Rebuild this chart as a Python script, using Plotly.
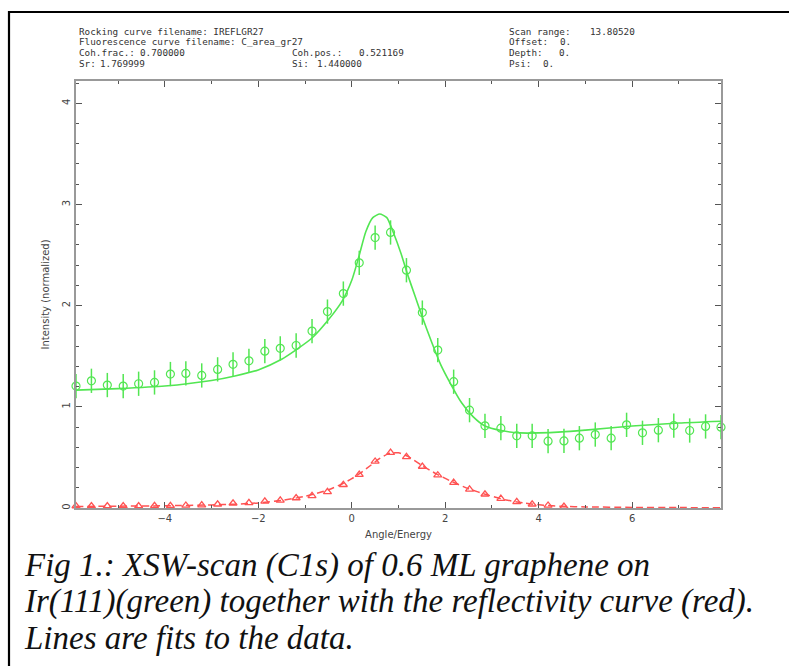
import plotly.graph_objects as go

# ---- data ----
x_pts = [-5.90, -5.57, -5.23, -4.89, -4.56, -4.22, -3.88, -3.55, -3.21, -2.87,
         -2.54, -2.20, -1.86, -1.53, -1.19, -0.85, -0.52, -0.18, 0.16, 0.50,
         0.83, 1.17, 1.51, 1.84, 2.18, 2.52, 2.85, 3.19, 3.53, 3.86,
         4.20, 4.54, 4.87, 5.21, 5.55, 5.88, 6.22, 6.56, 6.89, 7.23,
         7.57, 7.90]
fluor_y = [1.205, 1.257, 1.215, 1.205, 1.228, 1.241, 1.324, 1.330, 1.310, 1.370,
           1.420, 1.455, 1.550, 1.578, 1.606, 1.749, 1.941, 2.119, 2.423, 2.673,
           2.723, 2.350, 1.931, 1.561, 1.248, 0.967, 0.812, 0.789, 0.713, 0.713,
           0.660, 0.663, 0.690, 0.726, 0.690, 0.822, 0.743, 0.769, 0.815, 0.766,
           0.806, 0.799]
fluor_err = [0.12, 0.12, 0.12, 0.12, 0.12, 0.12, 0.12, 0.12, 0.12, 0.12,
             0.12, 0.12, 0.12, 0.12, 0.12, 0.12, 0.12, 0.12, 0.12, 0.12,
             0.12, 0.12, 0.12, 0.12, 0.12, 0.12, 0.12, 0.12, 0.12, 0.12,
             0.12, 0.12, 0.12, 0.12, 0.12, 0.12, 0.12, 0.12, 0.12, 0.12,
             0.12, 0.12]
refl_y = [0.020, 0.020, 0.020, 0.020, 0.020, 0.022, 0.022, 0.025, 0.028, 0.037,
          0.047, 0.050, 0.066, 0.076, 0.099, 0.120, 0.160, 0.230, 0.330, 0.460,
          0.548, 0.505, 0.410, 0.324, 0.251, 0.185, 0.136, 0.093, 0.060, 0.037,
          0.025, 0.015, None, None, None, None, None, None, None, None,
          None, None]

fit_fl_x = [-5.9, -5.0, -4.0, -3.0, -2.5, -2.0, -1.5, -1.2, -0.85, -0.5, -0.2, 0.0,
            0.15, 0.3, 0.45, 0.6, 0.75, 0.9, 1.05, 1.2, 1.35, 1.5, 1.7, 1.9, 2.1,
            2.35, 2.6, 2.85, 3.2, 3.6, 4.0, 4.5, 5.0, 6.0, 7.0, 7.9]
fit_fl_y = [1.165, 1.18, 1.205, 1.26, 1.305, 1.365, 1.47, 1.56, 1.68, 1.86, 2.05, 2.25,
            2.48, 2.73, 2.87, 2.905, 2.87, 2.71, 2.52, 2.30, 2.10, 1.90, 1.65, 1.42, 1.24,
            1.04, 0.90, 0.81, 0.765, 0.742, 0.742, 0.752, 0.77, 0.81, 0.84, 0.858]

fit_rf_x = [-5.9, -5.0, -4.0, -3.0, -2.5, -2.0, -1.5, -1.0, -0.5, -0.2, 0.0, 0.2,
            0.4, 0.6, 0.8, 1.0, 1.2, 1.5, 1.8, 2.1, 2.5, 2.9, 3.3, 3.7, 4.1, 4.5,
            5.0, 6.0, 7.0, 7.9]
fit_rf_y = [0.015, 0.018, 0.022, 0.030, 0.038, 0.050, 0.075, 0.115, 0.18, 0.24, 0.29, 0.35,
            0.42, 0.49, 0.54, 0.545, 0.51, 0.42, 0.34, 0.27, 0.19, 0.13, 0.08, 0.048, 0.028, 0.017,
            0.011, 0.006, 0.004, 0.003]

header_left = [
    ("Rocking curve filename: IREFLGR27", None, None, None),
    ("Fluorescence curve filename: C_area_gr27", None, None, None),
    ("Coh.frac.:", "0.700000", "Coh.pos.:", "0.521169"),
    ("Sr:", "1.769999", "Si:", "1.440000"),
]
header_right = [("Scan range:", "13.80520"), ("Offset:", "0."), ("Depth:", "0."), ("Psi:", "0.")]

caption = ["Fig 1.: XSW-scan (C1s) of 0.6 ML graphene on",
           "Ir(111)(green) together with the reflectivity curve (red).",
           "Lines are fits to the data."]

GREEN = "#52e652"
RED = "#ff5252"

# ---- layout geometry (pixels) ----
W, H = 789, 666
L, R, T, B = 76, 721, 81, 508
pw, ph = R - L, B - T


def px(xp):
    return (xp - L) / pw


def py(yp):
    return (B - yp) / ph


fig = go.Figure()

fig.add_trace(go.Scatter(x=fit_rf_x, y=fit_rf_y, mode="lines",
                         line=dict(color=RED, width=1.5, dash="7px,4px", shape="spline", smoothing=0.6),
                         hoverinfo="skip"))
fig.add_trace(go.Scatter(x=x_pts, y=refl_y, mode="markers", cliponaxis=False,
                         marker=dict(symbol="triangle-up-open", size=7, color=RED, line=dict(width=1.3))))
fig.add_trace(go.Scatter(x=fit_fl_x, y=fit_fl_y, mode="lines",
                         line=dict(color=GREEN, width=1.6, shape="spline", smoothing=0.6),
                         hoverinfo="skip"))
fig.add_trace(go.Scatter(x=x_pts, y=fluor_y, mode="markers", cliponaxis=False,
                         error_y=dict(type="data", array=fluor_err, color=GREEN, thickness=1.5, width=0),
                         marker=dict(symbol="circle-open", size=8, color=GREEN, line=dict(width=1.2))))

axis_common = dict(showgrid=False, zeroline=False, showline=True, linecolor="#999", linewidth=2,
                   mirror="ticks", ticks="inside", tickcolor="#555", ticklen=6, tickwidth=1,
                   tickfont=dict(family="DejaVu Sans", size=10, color="#444"))

fig.update_xaxes(range=[-5.9, 7.9], tickmode="array", tickvals=[-4, -2, 0, 2, 4, 6],
                 ticktext=["\u22124", "\u22122", "0", "2", "4", "6"],
                 minor=dict(tickmode="array", tickvals=[-5, -3, -1, 1, 3, 5, 7], ticks="inside",
                            ticklen=3, tickcolor="#555"),
                 title=dict(text="Angle/Energy", font=dict(family="DejaVu Sans", size=10, color="#444"),
                            standoff=8),
                 **axis_common)
fig.update_yaxes(range=[0, 4.22], tickmode="array", tickvals=[0, 1, 2, 3, 4], tickangle=-90,
                 minor=dict(dtick=0.2, ticks="inside", ticklen=3, tickcolor="#555"),
                 title=dict(text="Intensity (normalized)", font=dict(family="DejaVu Sans", size=10, color="#444"),
                            standoff=10),
                 **axis_common)

annos = []
hdr_font = dict(family="DejaVu Sans Mono", size=9.3, color="#333")
rows_y = [31, 41.7, 52.4, 63.1]
for (a, b, c, d), yy in zip(header_left, rows_y):
    annos.append(dict(text=a, x=px(77), y=py(yy)))
    if b:
        annos.append(dict(text=b, x=px(98 if a == "Sr:" else 138), y=py(yy)))
    if c:
        annos.append(dict(text=c, x=px(290), y=py(yy)))
    if d:
        annos.append(dict(text=d, x=px(315 if c == "Si:" else 357), y=py(yy)))
val_x = [588, 558, 557, 541]
for (a, b), yy, vx in zip(header_right, rows_y, val_x):
    annos.append(dict(text=a, x=px(507), y=py(yy)))
    annos.append(dict(text=b, x=px(vx), y=py(yy)))
for an in annos:
    an.update(xref="paper", yref="paper", xanchor="left", yanchor="middle", showarrow=False, font=hdr_font)

cap_y = [565, 601, 638]
for t, yy in zip(caption, cap_y):
    annos.append(dict(text=t, x=px(22), y=py(yy), xref="paper", yref="paper", xanchor="left",
                      yanchor="middle", showarrow=False,
                      font=dict(family="Liberation Serif", size=33, color="#111", style="italic")))

fig.update_layout(
    width=W, height=H, margin=dict(l=L, r=W - R, t=T, b=H - B, pad=0),
    paper_bgcolor="white", plot_bgcolor="white", showlegend=False, hovermode=False,
    annotations=annos,
    shapes=[
        dict(type="line", xref="paper", yref="paper", x0=px(8), x1=px(800), y0=py(12), y1=py(12),
             line=dict(color="black", width=2.2)),
        dict(type="line", xref="paper", yref="paper", x0=px(9), x1=px(9), y0=py(11), y1=py(680),
             line=dict(color="black", width=2.2)),
    ],
)

fig.write_html("out.html", config={"displayModeBar": False, "staticPlot": True},
               post_script="document.body.style.margin='0';document.body.style.overflow='hidden';")
